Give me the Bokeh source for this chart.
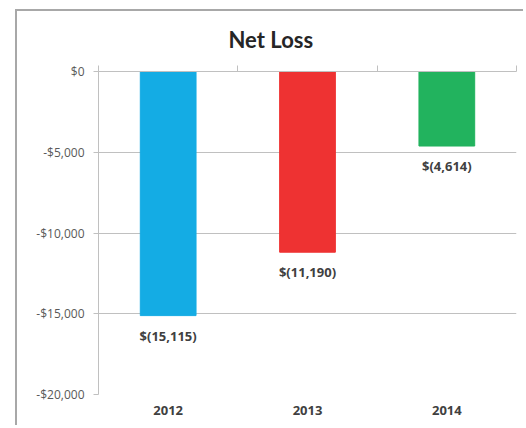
from bokeh.plotting import figure
from bokeh.models import (ColumnDataSource, LabelSet, LinearAxis, Range1d,
                          FixedTicker, NumeralTickFormatter)
from bokeh.core.properties import value
from bokeh.embed import file_html
from bokeh.resources import INLINE

years = ["2012", "2013", "2014"]
net_loss = [-15115, -11190, -4614]
labels = ["$(15,115)", "$(11,190)", "$(4,614)"]
colors = ["#14ACE4", "#EE3232", "#22B35E"]
y_ticks = [0, -5000, -10000, -15000, -20000]

TITLE_FONT = "Lato"
FONT = "Open Sans"
GRID = "#c0c0c0"

centers = [i + 0.5 for i in range(len(years))]
src = ColumnDataSource(dict(x=centers, year=years, value=net_loss, label=labels, color=colors))

W, H = 508, 416
p = figure(x_range=Range1d(0, len(years)), y_range=Range1d(-20000, 0),
           width=W, height=H,
           output_backend="svg", toolbar_location=None,
           min_border_left=81, min_border_right=9, min_border_top=60,
           min_border_bottom=33, outline_line_color=None)
p.styles = {"border-left": "2px solid #a8a8a8", "border-top": "2px solid #a8a8a8",
            "margin-left": "15px", "margin-top": "9px"}

p.title.text = "Net Loss"
p.title.text_font = TITLE_FONT
p.title.text_font_size = "22px"
p.title.text_font_style = "bold"
p.title.text_color = "#262626"
p.title.align = "left"
p.title.offset = 130
p.title.standoff = 25

p.vbar(x="x", top="value", bottom=0, width=0.4, color="color", source=src)

p.add_layout(LabelSet(x="x", y="value", text="label", source=src,
                      text_align="center", text_baseline="top", y_offset=-11,
                      text_font=value(FONT), text_font_size="13px",
                      text_font_style="bold", text_color="#404040"))

# y axis
yax = p.yaxis[0]
yax.ticker = FixedTicker(ticks=y_ticks)
yax.formatter = NumeralTickFormatter(format="$0,0")
yax.major_label_text_font = FONT
yax.major_label_text_font_size = "12px"
yax.major_label_text_color = "#595959"
yax.axis_line_color = GRID
yax.major_tick_line_color = GRID
yax.major_tick_out = 5
yax.major_tick_in = 0
yax.minor_tick_line_color = None
yax.major_label_standoff = 9

# bottom category labels
xax = p.xaxis[0]
xax.ticker = FixedTicker(ticks=centers)
xax.major_label_overrides = {c: y for c, y in zip(centers, years)}
xax.axis_line_color = None
xax.major_tick_line_color = None
xax.minor_tick_line_color = None
xax.major_label_text_font = FONT
xax.major_label_text_font_size = "13px"
xax.major_label_text_font_style = "bold"
xax.major_label_text_color = "#404040"
xax.major_label_standoff = 5

# zero-line axis on top with ticks at category edges
edges = list(range(len(years) + 1))
top = LinearAxis(ticker=FixedTicker(ticks=edges))
top.major_label_overrides = {e: "" for e in edges}
top.axis_line_color = GRID
top.major_tick_line_color = GRID
top.major_tick_out = 6
top.major_tick_in = 0
top.minor_tick_line_color = None
p.add_layout(top, "above")

p.xgrid.grid_line_color = None
p.ygrid.grid_line_color = GRID
p.ygrid.ticker = FixedTicker(ticks=y_ticks)

open("out.html", "w").write(file_html(p, INLINE))
